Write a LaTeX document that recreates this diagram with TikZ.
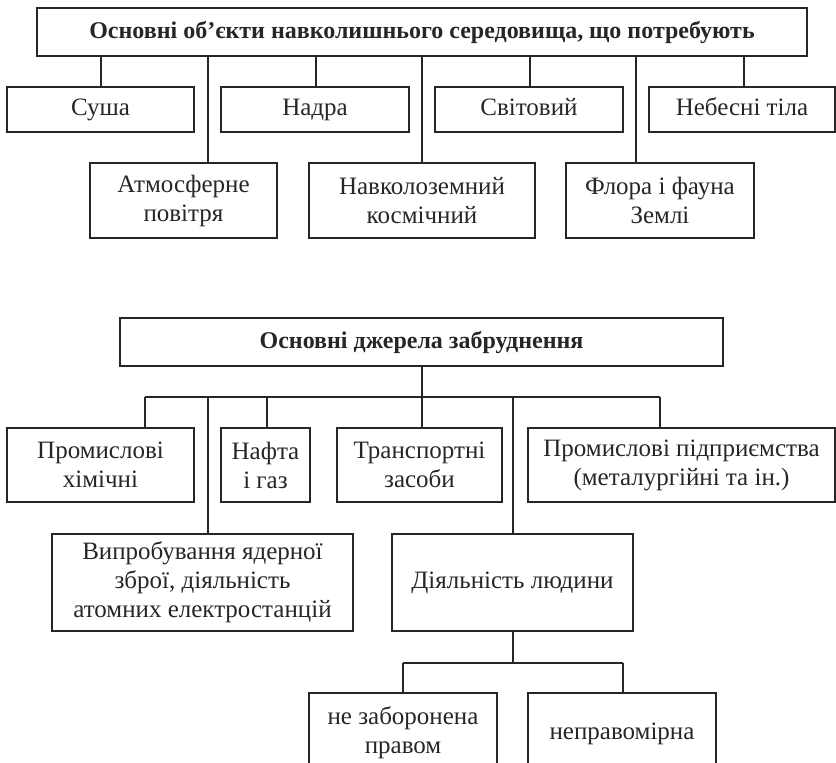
\documentclass[tikz,border=0pt]{standalone}
\usepackage{fontspec}
\setmainfont{Liberation Serif}
\usepackage{tikz}
\usetikzlibrary{positioning}
\definecolor{ink}{HTML}{262626}

\begin{document}
\begin{tikzpicture}[x=1pt,y=-1pt,line width=1.3pt,draw=ink,
  font=\fontsize{25}{29}\selectfont,
  box/.style={draw=ink,text=ink,align=center,inner sep=2pt,minimum height=45pt},
  onebox/.style={box,text height=17pt,text depth=5pt},
  hbox/.style={onebox,font=\fontsize{24}{28}\selectfont\bfseries,minimum height=48pt}]
\useasboundingbox (0,0) rectangle (836,763);
\clip (0,0) rectangle (836,763);
% objects
\node[hbox,minimum width=770pt] (obj) at (422,32) {Основні об’єкти навколишнього середовища, що потребують};
\node[onebox,minimum width=187pt] (land) at (100.5,109.5) {Суша};
\node[onebox,minimum width=188pt] (depth) at (315,109.5) {Надра};
\node[onebox,minimum width=188pt] (world) at (529,109.5) {Світовий};
\node[onebox,minimum width=186pt] (sky) at (742,109.5) {Небесні тіла};
\node[box,minimum width=187pt,minimum height=75pt] (air) at (183.5,200.5) {Атмосферне\\повітря};
\node[box,minimum width=226pt,minimum height=75pt] (space) at (422,200.5) {Навколоземний\\космічний};
\node[box,minimum width=188pt,minimum height=75pt] (flora) at (660,200.5) {Флора і фауна\\Землі};
\foreach \n/\x in {land/101,depth/316,world/530,sky/744,air/208,space/422,flora/636}
  \draw (obj.south -| \x,0) -- (\n.north -| \x,0);
% sources
\node[hbox,minimum width=603pt] (src) at (421.5,342) {Основні джерела забруднення};
\node[box,minimum width=187pt,minimum height=74pt] (chem) at (100.5,465) {Промислові\\хімічні};
\node[box,minimum width=89pt,minimum height=74pt] (oil) at (265.5,465) {Нафта\\і газ};
\node[box,minimum width=165pt,minimum height=74pt] (trans) at (419.5,465) {Транспортні\\засоби};
\node[box,minimum width=307pt,minimum height=74pt] (plant) at (681.5,465) {Промислові підприємства\\(металургійні та ін.)};
\node[box,minimum width=301pt,minimum height=97pt] (nuke) at (202.5,582.5) {Випробування ядерної\\зброї, діяльність\\атомних електростанцій};
\node[onebox,minimum width=241pt,minimum height=97pt] (human) at (512.5,582.5) {Діяльність людини};
\node[box,minimum width=188pt,minimum height=80pt] (legal) at (403,733) {не заборонена\\правом};
\node[onebox,minimum width=188pt,minimum height=80pt] (illegal) at (622,733) {неправомірна};
\coordinate (bus) at (0,397);
\draw (src.south -| trans.north) ++(2.5,0) -- ++(0,62);
\draw (bus -| 145,0) -- (bus -| 660,0);
\foreach \n/\x in {chem/145,oil/267,plant/660,nuke/208,human/513}
  \draw (bus -| \x,0) -- (\n.north -| \x,0);
\coordinate (bus2) at (0,663);
\draw (human.south -| 513,0) -- (bus2 -| 513,0);
\draw (bus2 -| 403,0) -- (bus2 -| 623,0);
\foreach \n/\x in {legal/403,illegal/623}
  \draw (bus2 -| \x,0) -- (\n.north -| \x,0);
\end{tikzpicture}
\end{document}
